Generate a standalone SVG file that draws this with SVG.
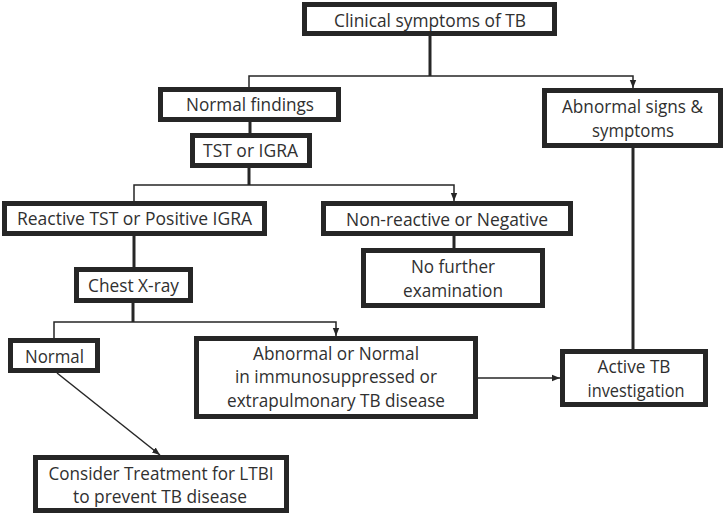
<svg xmlns="http://www.w3.org/2000/svg" width="725" height="516" viewBox="0 0 725 516">
<defs>
<marker id="arr" markerUnits="userSpaceOnUse" markerWidth="8" markerHeight="8" viewBox="0 0 8 8" refX="8" refY="4" orient="auto">
<path d="M0,0.8 L8,4 L0,7.2 Z" fill="#262626"/>
</marker>
<style>
.box{fill:#fff;stroke:#262626;stroke-width:5}
.t{font-family:"Open Sans","Noto Sans",sans-serif;font-size:18.6px;fill:#303030;text-anchor:middle}
.thick{stroke:#262626;stroke-width:3;fill:none}
.thin{stroke:#262626;stroke-width:1.5;fill:none}
</style>
</defs>
<rect width="725" height="516" fill="#fff"/>
<g id="connectors">
<line class="thick" x1="430" y1="36" x2="430" y2="76"/>
<polyline class="thin" points="249,87 249,76 633,76 633,88" marker-start="url(#arr)" marker-end="url(#arr)"/>
<line class="thick" x1="250" y1="122" x2="250" y2="133"/>
<line class="thick" x1="249" y1="168" x2="249" y2="185"/>
<polyline class="thin" points="134,201 134,185 454,185 454,201" marker-start="url(#arr)" marker-end="url(#arr)"/>
<line class="thick" x1="134" y1="236" x2="134" y2="267"/>
<line class="thick" x1="454" y1="236" x2="454" y2="248"/>
<line class="thick" x1="133" y1="303" x2="133" y2="322"/>
<polyline class="thin" points="54,338 54,322 336,322 336,336" marker-start="url(#arr)" marker-end="url(#arr)"/>
<line class="thick" x1="633" y1="148" x2="633" y2="349"/>
<line class="thin" x1="478" y1="378" x2="560" y2="378" marker-end="url(#arr)"/>
<line class="thin" x1="57" y1="373" x2="160" y2="455" marker-end="url(#arr)"/>
</g>
<g id="clinical"><rect class="box" x="304.5" y="4.5" width="250" height="29"/><text class="t" x="430" y="26.5" textLength="192" lengthAdjust="spacingAndGlyphs">Clinical symptoms of TB</text></g>
<g id="normal-findings"><rect class="box" x="160.5" y="89.5" width="178" height="30"/><text class="t" x="250" y="111" textLength="128" lengthAdjust="spacingAndGlyphs">Normal findings</text></g>
<g id="abnormal-signs"><rect class="box" x="544.5" y="90.5" width="176" height="55"/><text class="t" x="632.5" y="113" textLength="141" lengthAdjust="spacingAndGlyphs">Abnormal signs &amp;</text><text class="t" x="633" y="137" textLength="82" lengthAdjust="spacingAndGlyphs">symptoms</text></g>
<g id="tst-igra"><rect class="box" x="192.5" y="135.5" width="117" height="30"/><text class="t" x="250.5" y="157" textLength="95" lengthAdjust="spacingAndGlyphs">TST or IGRA</text></g>
<g id="reactive"><rect class="box" x="4.5" y="203.5" width="260" height="30"/><text class="t" x="134.5" y="225" textLength="235" lengthAdjust="spacingAndGlyphs">Reactive TST or Positive IGRA</text></g>
<g id="non-reactive"><rect class="box" x="323.5" y="203.5" width="247" height="30"/><text class="t" x="447" y="225.5" textLength="202" lengthAdjust="spacingAndGlyphs">Non-reactive or Negative</text></g>
<g id="no-further"><rect class="box" x="363.5" y="250.5" width="179" height="55"/><text class="t" x="453" y="273" textLength="84" lengthAdjust="spacingAndGlyphs">No further</text><text class="t" x="453" y="297" textLength="100" lengthAdjust="spacingAndGlyphs">examination</text></g>
<g id="chest-xray"><rect class="box" x="76.5" y="269.5" width="114" height="31"/><text class="t" x="133.5" y="292" textLength="91" lengthAdjust="spacingAndGlyphs">Chest X-ray</text></g>
<g id="normal"><rect class="box" x="10.5" y="340.5" width="87" height="30"/><text class="t" x="54.5" y="363" textLength="59" lengthAdjust="spacingAndGlyphs">Normal</text></g>
<g id="abnormal-or-normal"><rect class="box" x="196.5" y="338.5" width="279" height="78"/><text class="t" x="336" y="360" textLength="166" lengthAdjust="spacingAndGlyphs">Abnormal or Normal</text><text class="t" x="336" y="383" textLength="202" lengthAdjust="spacingAndGlyphs">in immunosuppressed or</text><text class="t" x="336" y="407" textLength="218" lengthAdjust="spacingAndGlyphs">extrapulmonary TB disease</text></g>
<g id="active-tb"><rect class="box" x="562.5" y="351.5" width="143" height="53"/><text class="t" x="634" y="373" textLength="73" lengthAdjust="spacingAndGlyphs">Active TB</text><text class="t" x="636" y="397" textLength="97" lengthAdjust="spacingAndGlyphs">investigation</text></g>
<g id="consider"><rect class="box" x="35.5" y="457.5" width="251" height="53"/><text class="t" x="161" y="480" textLength="225" lengthAdjust="spacingAndGlyphs">Consider Treatment for LTBI</text><text class="t" x="160" y="503" textLength="174" lengthAdjust="spacingAndGlyphs">to prevent TB disease</text></g>
</svg>
